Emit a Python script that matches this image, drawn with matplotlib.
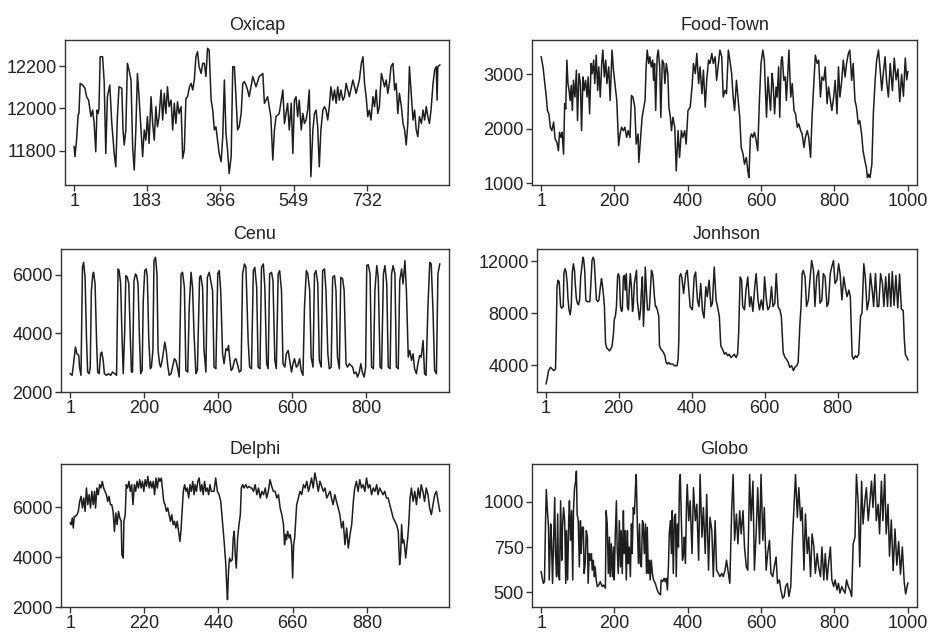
import matplotlib
matplotlib.use("Agg")
import matplotlib.pyplot as plt

plt.rcParams['font.family'] = ['Liberation Sans', 'DejaVu Sans']

# (index, value) pairs
oxicap = [(1,11819),(3,11772),(7,11850),(11,11969),(13,11976),(16,12118),(22,12110),(28,12095),(32,12055),(37,12039),
    (43,11961),(47,11992),(51,11929),(55,11795),(58,11992),(61,11976),(63,12000),(66,12244),(72,12244),(76,12126),
    (80,11787),(84,12055),(90,12110),(95,11929),(101,11787),(105,11724),(109,11961),(113,12102),(120,12095),(123,11898),
    (126,11827),(130,11898),(134,12213),(138,12181),(143,12134),(147,11819),(151,11709),(155,11898),(159,12165),(163,12055),
    (168,11898),(172,11772),(176,11898),(180,11850),(184,11961),(188,11835),(193,12055),(197,11929),(201,11850),(205,12008),
    (209,11913),(213,11961),(218,12087),(222,11945),(226,12071),(230,11976),(234,12102),(238,12008),(243,12039),(247,11898),
    (251,12024),(255,11929),(259,12031),(263,11976),(268,12008),(272,11764),(276,11803),(280,12047),(284,12055),(289,12102),
    (293,12118),(297,12087),(301,12134),(305,12244),(309,12268),(313,12197),(318,12165),(322,12213),(326,12213),(330,12150),
    (334,12284),(338,12276),(343,12039),(347,11992),(351,11898),(355,11913),(359,11850),(363,11787),(368,11748),(372,11866),
    (376,12134),(380,11882),(384,11803),(388,11693),(393,11772),(397,12197),(401,12197),(405,12055),(409,11898),(413,11913),
    (418,11976),(422,12118),(426,12126),(430,12110),(434,12087),(438,12055),
    (447,12150),(455,12102),(463,12150),(472,12165),(476,12024),(484,12055),(492,11961),(497,11756),(501,11898),(505,11961),
    (513,11976),(522,12087),(526,11929),(530,11976),(534,12024),(538,11898),(543,12024),(547,11787),(551,12039),(555,12055),
    (559,11961),(563,12039),(568,11898),(572,11976),(576,11929),(580,11945),(584,11992),(588,12087),(592,11677),(597,11898),
    (601,11976),(605,11992),(609,11913),(613,11724),(617,11898),(622,11992),(626,12008),(630,11992),(634,11945),(638,12008),
    (642,12102),(647,12039),(651,12087),(655,12024),(659,12102),(663,12039),(667,12087),(672,12039),(676,12055),(680,12118),
    (688,12055),(697,12134),(705,12071),(713,12134),(718,12213),(722,12244),(726,12118),(730,12055),(734,11961),(738,11992),
    (742,11945),(747,12055),(751,12008),(755,12087),(759,11976),(763,12008),(768,12165),(772,12134),(776,12102),(780,12134),
    (784,12071),(788,12118),(792,12197),(797,12213),(801,12087),(805,12118),(809,11976),(813,12071),(818,12008),(822,11929),
    (826,11898),(830,11827),(834,11929),(838,12197),(843,12055),(847,11945),(851,11992),(855,11898),(859,11866),(863,11961),
    (868,11929),(872,11992),(876,11945),(880,12008),(884,11961),(888,11929),(892,11992),(897,12118),(901,12181),(905,12197),
    (907,12039),(909,12197),(914,12205)]

food_town = [(1,3323),(6,3138),(9,2954),(15,2585),(18,2338),(22,2277),(26,2031),(30,1969),(35,2123),(39,1815),
    (44,1754),(48,1600),(51,1938),(55,1846),(58,1938),(62,1538),(65,2462),(68,2369),(71,3262),(74,2831),
    (77,2708),(80,2523),(83,2800),(86,2338),(89,2892),(93,2585),(97,3077),(100,2154),(104,3015),(108,2831),
    (111,1969),(115,2954),(118,2708),(122,2892),(126,2585),(129,2954),(133,2277),(137,3200),(140,3015),(144,3262),
    (147,2831),(151,3354),(155,2708),(158,3138),(162,2585),(166,3200),(169,3446),(173,2954),(177,3262),(180,2831),
    (185,3138),(189,2523),(194,3446),(198,3077),(203,2769),(207,2523),(212,1692),(216,1908),(220,2031),(225,1969),
    (229,2031),(234,1846),(238,1969),(243,1846),(247,2615),(251,2585),(256,2400),(260,1723),(265,1908),(267,1385),
    (272,1846),(276,2215),(280,2369),(284,2523),(287,3138),(290,3446),(294,3200),(297,3323),(301,3138),(305,3262),
    (307,2892),(310,3200),(313,2338),(317,3323),(320,3446),(324,3138),(327,2215),(331,3262),(335,3200),(338,2831),
    (342,3200),(346,3015),(349,2400),(353,2215),(356,1969),(360,2215),(365,2031),(369,1231),(374,1969),(378,1477),
    (383,1969),(387,1846),(392,1969),(396,1723),(401,2338),(407,2400),(412,2769),(416,3200),(421,3015),(425,3385),
    (430,2831),(434,3138),(439,2646),(443,3077),(448,2400),(452,2892),(457,3262),(461,3200),(466,3385),(470,3200),
    (475,3323),(479,2892),(484,3200),(488,3446),(493,3323),(497,2585),(502,2708),(506,2646),(511,3446),(515,3262),
    (520,3015),(524,2585),(528,2338),(533,2892),(537,2585),(542,2215),(546,1662),(551,1538),(555,1354),(560,1477),
    (564,1231),(567,1108),(571,1846),(574,1908),(578,1846),(582,1938),(587,1785),(591,1600),(596,2585),(600,3200),
    (605,3446),(609,3262),(612,2708),(615,2215),(619,2954),(623,2585),(626,2338),(630,3015),(633,2831),(637,2277),
    (641,2769),(644,2585),(648,3138),(651,2215),(655,3262),(658,3323),(662,2892),(666,2954),(669,2523),(673,3015),
    (676,3446),(681,2585),(685,2831),(690,2338),(694,2277),(699,2031),(703,2092),(708,1969),(712,1908),(717,1662),
    (721,1846),(726,1969),(730,1846),(735,1477),(739,2215),(744,2831),(748,3354),(753,3200),(757,3262),(762,2585),
    (766,2954),(771,2892),(775,3138),(780,2462),(784,2769),(789,2523),(793,2338),(798,2585),(802,2892),(807,2277),
    (811,3138),(815,2585),(820,2892),(824,3262),(829,2954),(833,3200),(838,3385),(842,3446),(847,2892),(851,3200),
    (856,2523),(860,2400),(865,2092),(869,2154),(874,1908),(878,1600),(883,1415),(887,1292),(890,1108),(893,1169),
    (897,1108),(902,1354),(906,2277),(911,2892),(915,3262),(920,3446),(924,3138),(929,2708),(933,3015),(938,3323),
    (942,2892),(947,2585),(952,3200),(958,2700),(963,3300),(968,2900),(973,3100),(978,2500),(983,3000),(988,2600),
    (993,3300),(997,2900),(1000,3050)]

cenu = [(1,2625),(6,2570),(10,2966),(15,3534),(19,3307),(24,3250),(26,2852),(30,2570),(34,6261),(37,6431),
    (41,5920),(45,3761),(48,2682),(52,2625),(55,2852),(58,5465),(62,6033),(64,6090),(68,5693),(72,3761),
    (75,2682),(79,2625),(83,3307),(86,3364),(90,3080),(93,2625),(99,2570),(104,2625),(110,2570),(115,2682),
    (121,2625),(126,2570),(130,6204),(133,6147),(137,5693),(141,3761),(144,2625),(148,4102),(151,5977),(155,5920),
    (159,5693),(162,4329),(166,2682),(169,2682),(173,5806),(177,6033),(180,5977),(184,5693),(188,3761),(191,2625),
    (195,2739),(198,5125),(202,6147),(206,6204),(209,5920),(213,3761),(217,2795),(220,2852),(224,3421),(227,6488),
    (231,6602),(235,6033),(238,3421),(242,2966),(245,2852),(249,3080),(253,3421),(256,3704),(260,3421),(264,2909),
    (268,2570),(273,2625),(277,2852),(282,3137),(286,3080),(291,2795),(295,2512),(300,6033),(304,6090),(309,5579),
    (313,2739),(318,2682),(322,4897),(327,6090),(331,5579),(335,3989),(340,2625),(344,2739),(350,5920),(353,5977),
    (358,5579),(362,3421),(367,2682),(371,5920),(376,6090),(380,5806),(385,5465),(389,2852),(394,2795),(399,6033),
    (403,6147),(407,5465),(412,3307),(416,2966),(421,3477),(425,3421),(428,3591),(431,3193),(435,2739),(439,2795),
    (444,3080),(448,3137),(453,2909),(457,2682),(462,2739),(466,6033),(471,6374),(475,6261),(481,3761),(485,2852),
    (490,2795),(495,6147),(499,6261),(504,5579),(508,2852),(513,2795),(517,6261),(522,6374),(526,5579),(531,2966),
    (535,2795),(539,6033),(544,6090),(548,5806),(553,3080),(557,2795),(562,6033),(566,6147),(571,5465),(575,2966),
    (580,2852),(584,3307),(589,3421),(593,3080),(598,2682),(602,2966),(606,3137),(611,2852),(615,2909),(620,3137),
    (624,2739),(629,2570),(633,4897),(638,6147),(642,6033),(647,5465),(651,3193),(656,2852),(660,6033),(664,6147),
    (669,5693),(673,3080),(678,2852),(682,6147),(687,6204),(691,5465),(696,3307),(700,2795),(705,2852),(709,5920),
    (714,5977),(718,5465),(722,3193),(727,2795),(731,5920),(736,5863),(740,5465),(745,2966),(749,2852),(754,2966),
    (758,2909),(763,2852),(767,2625),(772,2682),(776,2512),(781,2682),(785,2966),(789,2682),(794,2512),(798,2852),
    (801,6318),(805,6352),(810,6033),(814,2852),(819,2795),(823,5465),(828,6318),(832,5920),(837,2852),(841,2795),
    (846,6033),(850,6318),(855,5693),(859,2852),(864,2795),(868,6033),(872,6318),(877,6033),(881,2852),(886,2795),
    (890,5806),(895,6204),(899,5693),(904,6488),(908,5465),(913,3193),(917,3421),(922,3080),(926,3307),(930,2795),
    (935,2625),(939,2966),(944,3250),(948,3193),(953,3761),(957,2625),(961,2570),(966,4897),(971,6431),(975,6374),
    (980,4670),(984,2739),(989,2625),(993,6033),(998,6374)]

jonhson = [(1,2556),(4,2936),(8,3569),(13,3822),(18,3696),(22,3569),(27,3696),(29,6481),(31,10026),(34,10532),
    (37,10405),(39,9519),(41,8506),(44,8380),(48,8506),(50,11038),(53,11418),(56,11165),(59,10279),(61,9139),
    (64,8253),(67,7873),(70,8506),(73,11165),(76,11798),(79,11292),(81,10279),(84,9139),(87,8760),(90,8633),
    (93,9013),(96,10785),(99,11545),(102,12304),(104,12178),(107,11292),(110,9013),(113,8886),(117,8886),(121,8886),
    (124,10279),(127,12051),(130,12304),(133,12051),(135,11038),(139,9013),(143,8886),(146,9013),(150,10026),(153,10659),
    (155,10279),(158,9519),(161,8506),(164,5721),(167,5341),(171,5215),(175,5088),(178,5215),(182,5468),(186,6481),
    (188,7494),(191,7747),(194,8506),(197,10785),(199,11038),(202,10785),(205,8506),(208,8127),(210,8253),(213,10785),
    (216,10912),(218,9772),(221,11038),(224,8506),(227,8253),(229,9772),(232,11038),(235,10026),(238,8127),(240,8506),
    (243,10279),(246,10785),(249,11292),(251,9013),(254,8253),(257,7494),(260,8253),(262,9519),(265,10785),(268,6987),
    (271,9013),(273,11545),(276,9772),(279,8253),(282,8253),(284,8253),(287,9772),(290,11292),(293,11038),(295,10532),
    (298,9266),(301,8506),(303,8506),(306,8253),(310,7747),(312,5468),(316,5215),(320,5088),(323,4962),(327,4709),
    (330,4202),(334,4076),(337,4202),(341,4076),(344,4076),(348,4076),(353,3949),(356,3949),(360,3949),(363,4455),
    (365,5974),(367,10785),(370,11038),(373,10785),(376,10026),(378,9519),(381,10279),(384,11038),(388,11292),(396,8506),
    (402,8253),(407,10785),(411,11165),(416,9013),(420,8506),(425,10279),(430,8127),(434,7620),(439,10026),(443,9266),
    (448,10532),(453,8506),(457,8760),(462,11545),(467,9013),(471,8506),(476,7747),(480,5468),(485,5215),(490,4835),
    (494,4962),(499,4709),(503,4835),(508,4582),(513,4709),(517,4835),(522,4582),(526,4835),(529,6481),(533,10785),
    (537,10532),(540,8506),(545,8253),(549,9772),(554,10785),(559,8506),(563,9266),(568,8127),(573,10026),(577,11038),
    (582,9013),(586,8253),(591,9013),(596,8253),(600,10785),(605,9013),(609,8253),(614,8506),(619,10026),(623,8506),
    (628,8760),(632,11038),(637,8506),(642,8253),(646,7747),(651,4962),(656,4582),(660,4455),(665,4202),(669,3822),
    (674,3949),(679,3569),(683,3822),(688,3949),(692,4202),(697,7240),(700,8506),(703,11038),(706,11292),(711,10785),
    (715,8506),(720,9013),(725,10785),(729,12051),(734,11292),(738,8506),(743,10785),(748,11292),(752,8760),(757,9013),
    (761,11038),(766,10785),(771,8506),(775,8760),(780,11038),(784,11545),(789,12051),(793,10279),(798,10532),(803,11798),
    (807,11038),(812,9013),(817,10785),(821,10026),(826,9266),(831,9772),(835,9266),(840,4709),(844,4455),(849,4709),
    (853,4582),(858,4835),(863,7747),(867,8000),(872,11798),(876,10785),(881,8253),(886,9013),(890,11038),(895,9772),
    (899,8506),(904,11038),(909,8506),(913,8506),(918,11038),(923,10279),(927,8506),(932,10785),(937,8506),(941,11038),
    (946,8506),(950,11200),(955,8600),(960,10900),(965,8400),(970,11000),(975,8300),(980,8200),(983,6000),(986,4800),
    (990,4600),(993,4400)]

delphi = [(1,5360),(4,5293),(7,5560),(10,5160),(13,5627),(17,5627),(21,5693),(25,5827),(29,6227),(33,6427),
    (37,5960),(41,6360),(45,5827),(49,6760),(53,6093),(57,6493),(61,5960),(65,6627),(69,6093),(73,6627),
    (76,5960),(80,6760),(84,6493),(88,6893),(92,6760),(96,7027),(100,6760),(104,6627),(108,6493),(112,6227),
    (116,6427),(120,6093),(124,6093),(128,5827),(132,5027),(136,5760),(140,5293),(144,5827),(148,5560),(152,5427),
    (154,4093),(156,4027),(158,3960),(160,5427),(164,5693),(167,6893),(171,6760),(175,7027),(179,6627),(183,6893),
    (187,6093),(191,6893),(195,6627),(199,7027),(203,6760),(207,7093),(211,6760),(215,7027),(219,6627),(223,7093),
    (227,6827),(231,7227),(235,6760),(239,7027),(243,6760),(247,7027),(251,6493),(255,7160),(259,6760),(263,7160),
    (267,7027),(271,7160),(274,6760),(278,6227),(282,6093),(286,5827),(290,5960),(294,5693),(298,5427),(302,5693),
    (306,5293),(310,5427),(314,5160),(318,5427),(322,5027),(326,4627),(329,5027),(332,5693),(336,6627),(340,6893),
    (344,6627),(348,6760),(352,6360),(356,6893),(360,6627),(364,7027),(368,6493),(371,6893),(375,6627),(379,7027),
    (383,7160),(387,6627),(391,6893),(395,6493),(399,7027),(403,6627),(407,6760),(411,6493),(415,6893),(419,6627),
    (423,6627),(427,6627),(432,7160),(437,6627),(442,6493),(447,6227),(452,5427),(457,4627),(462,3693),(465,2760),
    (467,2293),(470,3427),(473,3960),(477,3827),(481,3893),(484,4760),(487,5027),(490,4093),(493,3560),(497,4760),
    (501,5293),(505,5693),(508,6760),(512,6893),(516,6760),(521,6893),(526,6760),(531,6827),(536,6760),(539,6760),
    (544,6627),(549,6893),(554,6493),(559,6760),(564,6360),(569,6627),(574,6493),(579,6760),(583,6360),(588,6627),
    (593,7093),(598,6827),(603,6627),(608,6627),(613,6360),(618,6493),(623,5960),(628,5693),(633,5293),(636,4493),
    (639,4893),(642,4693),(645,5027),(647,4893),(650,4760),(653,4893),(657,4493),(660,3160),(663,4493),(666,4760),
    (669,5427),(672,6093),(677,6360),(682,6627),(687,6493),(692,6893),(697,6760),(702,7027),(707,6627),(712,6893),
    (716,7160),(721,6760),(726,7360),(731,7027),(736,6627),(741,7027),(746,6827),(751,6627),(756,6760),(761,6360),
    (766,6493),(771,6627),(775,6360),(780,6093),(785,6493),(790,6227),(795,5960),(800,5693),(805,5160),(810,5427),
    (815,4493),(820,5160),(825,4360),(830,4893),(835,5293),(840,6227),(844,6760),(849,7027),(854,6627),(859,7093),
    (864,6760),(869,6893),(874,6627),(879,7160),(884,6760),(889,6893),(894,6493),(899,6760),(904,6627),(909,6893),
    (913,6493),(918,6760),(923,6627),(928,6493),(933,6627),(938,6360),(943,6360),(948,6093),(953,5827),(958,5560),
    (963,5427),(968,5293),(973,5027),(977,3693),(980,4093),(983,5293),(986,4560),(989,4693),(992,4427),(995,3960),
    (998,4360),(1001,4760),(1004,5293),(1008,6360),(1012,6760),(1017,6227),(1022,6627),(1027,6093),(1032,6760),(1037,6360),
    (1041,6893),(1046,6627),(1051,6227),(1056,6760),(1061,6493),(1066,5960),(1071,5693),(1076,6093),(1081,6493),(1086,6627),
    (1091,6227),(1096,5827)]

globo = [(1,613),(4,577),(7,549),(10,558),(13,896),(15,1069),(18,951),(21,860),(23,568),(27,878),
    (29,787),(32,549),(35,805),(38,1024),(40,714),(43,586),(46,933),(48,604),(51,568),(54,1006),
    (57,677),(59,860),(62,969),(65,896),(68,549),(70,841),(73,568),(76,896),(78,1006),(81,787),
    (84,951),(87,568),(89,951),(92,1079),(95,1115),(97,1170),(99,933),(102,896),(105,640),(108,896),
    (110,714),(113,860),(116,860),(118,604),(121,659),(124,841),(127,805),(129,549),(132,714),(135,677),
    (138,714),(140,622),(143,677),(146,586),(148,640),(151,568),(154,531),(158,540),(162,558),(167,531),
    (171,540),(176,522),(178,951),(181,878),(184,604),(187,805),(189,586),(192,768),(195,586),(198,750),
    (200,568),(203,823),(206,1006),(208,750),(211,604),(214,896),(217,640),(219,841),(222,604),(225,951),
    (227,714),(230,841),(233,568),(236,841),(238,659),(241,750),(244,586),(247,878),(249,714),(252,969),
    (255,933),(258,1079),(260,1152),(263,878),(266,659),(269,878),(271,659),(274,640),(277,896),(279,878),
    (282,714),(285,878),(288,604),(290,860),(293,604),(296,677),(298,568),(301,677),(304,604),(307,568),
    (312,549),(317,513),(321,495),(326,485),(328,568),(332,558),(336,577),(339,558),(342,577),(345,513),
    (348,659),(350,823),(353,896),(356,714),(358,951),(361,604),(364,915),(367,933),(369,586),(372,878),
    (375,750),(378,1115),(380,1152),(383,896),(386,677),(389,714),(391,805),(394,659),(397,987),(399,1097),
    (403,896),(407,1006),(412,714),(416,1079),(421,896),(425,987),(430,677),(434,1152),(439,805),(443,969),
    (448,714),(452,1042),(457,622),(461,915),(466,841),(470,586),(475,896),(479,622),(484,604),(488,586),
    (493,604),(497,586),(502,622),(506,677),(511,604),(515,549),(520,951),(524,1152),(528,787),(533,933),
    (537,768),(542,951),(546,823),(551,951),(555,750),(560,640),(564,622),(569,1152),(573,896),(578,1115),
    (582,622),(587,841),(591,1079),(596,768),(600,1152),(605,787),(609,969),(614,622),(618,714),(623,787),
    (627,604),(632,586),(636,640),(641,695),(645,549),(650,568),(654,513),(659,467),(663,476),(667,531),
    (672,549),(676,476),(681,531),(685,768),(690,987),(694,1152),(699,915),(703,1079),(708,896),(712,969),
    (717,622),(721,933),(726,714),(730,805),(735,586),(739,823),(744,750),(748,604),(753,714),(757,640),
    (762,586),(766,750),(771,568),(775,714),(780,568),(784,659),(789,750),(793,568),(798,531),(802,568),
    (807,513),(811,549),(815,495),(820,531),(824,513),(829,495),(833,568),(838,531),(842,513),(847,476),
    (851,768),(856,805),(860,1152),(865,987),(869,640),(874,1115),(878,878),(883,1006),(887,1079),(892,896),
    (896,987),(901,1115),(905,969),(910,1152),(914,896),(919,987),(923,823),(928,1115),(932,896),(937,1152),
    (941,823),(946,987),(950,700),(955,900),(960,620),(965,850),(970,650),(975,780),(980,600),(985,750),
    (990,560),(994,490),(997,520),(1000,550)]

panels = [
    # title, data, xticks, yticks, ylim, axes box in pixels (left, top, right, bottom)
    ("Oxicap", oxicap, [1, 183, 366, 549, 732], [11800, 12000, 12200], (11638, 12323), (65, 40, 449, 185)),
    ("Food-Town", food_town, [1, 200, 400, 600, 800, 1000], [1000, 2000, 3000], (972, 3631), (532, 40, 917, 185)),
    ("Cenu", cenu, [1, 200, 400, 600, 800], [2000, 4000, 6000], (2000, 6886), (61, 249, 449, 392)),
    ("Jonhson", jonhson, [1, 200, 400, 600, 800], [4000, 8000, 12000], (1924, 12937), (537, 249, 917, 392)),
    ("Delphi", delphi, [1, 220, 440, 660, 880], [2000, 4000, 6000], (2027, 7720), (61, 464, 449, 607)),
    ("Globo", globo, [1, 200, 400, 600, 800, 1000], [500, 750, 1000], (418, 1210), (532, 464, 917, 607)),
]

W, H = 936, 634
fig = plt.figure(figsize=(W / 100, H / 100), dpi=100)

for title, data, xt, yt, ylim, box in panels:
    l, t, r, b = box
    ax = fig.add_axes([l / W, 1 - b / H, (r - l) / W, (b - t) / H])
    xs = [p[0] for p in data]
    ys = [p[1] for p in data]
    ax.plot(xs, ys, color="#1e1e1e", lw=1.1)
    ax.margins(x=0.025)
    ax.set_ylim(*ylim)
    ax.set_xticks(xt)
    ax.set_yticks(yt)
    ax.set_title(title, fontsize=13, color="#222222", pad=7)
    ax.tick_params(labelsize=13, length=4, width=1, pad=2, colors="#333333", labelcolor="#222222")
    for s in ax.spines.values():
        s.set_color("#333333")
        s.set_linewidth(1.0)

fig.savefig("out.png", dpi=100)
